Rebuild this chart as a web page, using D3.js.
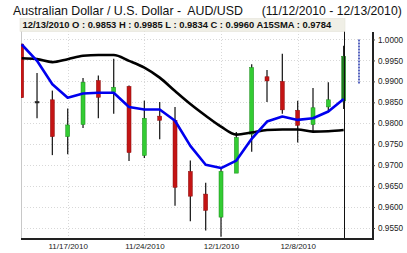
<!DOCTYPE html>
<html>
<head>
<meta charset="utf-8">
<script src="https://cdn.jsdelivr.net/npm/d3@7"></script>
<style>
  body { margin: 0; background: #fff; }
  svg { display: block; font-family: "Liberation Sans", Arial, sans-serif; }
  .pre { white-space: pre; }
</style>
</head>
<body>
<svg width="407" height="253"></svg>
<script>
// trading days (weekdays only) plus the next session shown as a dashed range
const days = ["11/12","11/15","11/16","11/17","11/18","11/19","11/22","11/23","11/24","11/25","11/26",
  "11/29","11/30","12/1","12/2","12/3","12/6","12/7","12/8","12/9","12/10","12/13"];
const nextDay = "12/14";

const opens  = [0.9989,0.9852,0.9856,0.9768,0.9797,0.9902,0.9874,0.9888,0.9723,0.9817,0.9807,
  0.9685,0.9631,0.9576,0.9681,0.9774,0.9911,0.9900,0.9831,0.9797,0.9839,0.9853];
const highs  = [0.9990,0.9920,0.9878,0.9835,0.9908,0.9914,0.9954,0.9890,0.9854,0.9851,0.9839,
  0.9711,0.9658,0.9695,0.9779,0.9941,0.9927,0.9966,0.9854,0.9884,0.9898,0.9985];
const lows   = [0.9861,0.9812,0.9724,0.9726,0.9789,0.9812,0.9823,0.9710,0.9717,0.9762,0.9603,
  0.9566,0.9544,0.9529,0.9718,0.9732,0.9851,0.9823,0.9754,0.9779,0.9826,0.9834];
const closes = [0.9861,0.9852,0.9768,0.9796,0.9898,0.9862,0.9886,0.9730,0.9812,0.9807,0.9647,
  0.9626,0.9592,0.9685,0.9766,0.9933,0.9901,0.9832,0.9795,0.9837,0.9856,0.9960];

const sma15 = [0.9955,0.9953,0.9946,0.9953,0.9961,0.9963,0.9963,0.9949,0.9933,0.9909,0.9877,
  0.9846,0.9818,0.9792,0.9773,0.9778,0.9784,0.9785,0.9785,0.9780,0.9781,0.9784];
const smaShort = [0.9988,0.9949,0.9893,0.9861,0.9871,0.9873,0.9873,0.9839,0.9833,0.9833,0.9806,
  0.9746,0.9701,0.9693,0.9711,0.9763,0.9804,0.9816,0.9808,0.9812,0.9828,0.9858];

const nextRange = [1.0000, 0.9894];

const yTicks = [1.0000,0.9950,0.9900,0.9850,0.9800,0.9750,0.9700,0.9650,0.9600,0.9550];
const xTicks = ["11/17","11/24","12/1","12/8"];

const svg = d3.select("svg");
const pLeft = 21, pRight = 373, pTop = 31, pBottom = 239;

const x = d3.scalePoint().domain(days.concat([nextDay])).range([21.7, 359]);
const y = d3.scaleLinear().domain([0.95238, 1.00214]).range([pBottom, pTop - 0.5]);

// title
svg.append("text").attr("class", "pre").attr("x", 13).attr("y", 15).attr("font-size", 12.35).attr("fill", "#111")
  .text("Australian Dollar / U.S. Dollar -  AUD/USD");
svg.append("text").attr("x", 261.7).attr("y", 15).attr("font-size", 12.2).attr("fill", "#111")
  .text("(11/12/2010 - 12/13/2010)");

const defs = svg.append("defs");
defs.append("clipPath").attr("id", "plot")
  .append("rect").attr("x", pLeft).attr("y", pTop).attr("width", pRight - pLeft).attr("height", pBottom - pTop);

// grid
const grid = svg.append("g").attr("stroke", "#d8d8d8").attr("stroke-dasharray", "1,2");
grid.selectAll("line.h").data(yTicks).join("line")
  .attr("x1", pLeft).attr("x2", pRight)
  .attr("y1", d => Math.round(y(d)) + 0.5).attr("y2", d => Math.round(y(d)) + 0.5);
grid.selectAll("line.v").data(xTicks).join("line")
  .attr("x1", d => Math.round(x(d)) + 0.5).attr("x2", d => Math.round(x(d)) + 0.5)
  .attr("y1", pTop).attr("y2", pBottom);

svg.append("line").attr("x1", pLeft + 0.5).attr("x2", pLeft + 0.5).attr("y1", pTop).attr("y2", pBottom)
  .attr("stroke", "#c8c8c8");

const plot = svg.append("g").attr("clip-path", "url(#plot)");

// candles
const candles = days.map((d, i) => ({ d, o: opens[i], h: highs[i], l: lows[i], c: closes[i], last: i === days.length - 1 }));
const cg = plot.selectAll("g.candle").data(candles).join("g");
cg.append("line")
  .attr("x1", d => x(d.d)).attr("x2", d => x(d.d))
  .attr("y1", d => y(d.h)).attr("y2", d => y(d.l))
  .attr("stroke", "#222").attr("stroke-width", 1.3);
cg.append("rect")
  .attr("x", d => x(d.d) - 2).attr("width", 4)
  .attr("y", d => y(Math.max(d.o, d.c)))
  .attr("height", d => Math.max(1.5, Math.abs(y(d.o) - y(d.c))))
  .attr("fill", d => d.c > d.o ? (d.last ? "#1f7a1f" : "#33cc33") : (d.c < d.o ? "#c41414" : "#222"))
  .attr("stroke", d => d.c > d.o ? "#1a8a1a" : (d.c < d.o ? "#8a1010" : "#222"))
  .attr("stroke-width", 0.5);

// moving averages
const line = d3.line().x((v, i) => x(days[i])).y(v => y(v));
plot.append("path").datum(sma15)
  .attr("d", line.curve(d3.curveMonotoneX))
  .attr("fill", "none").attr("stroke", "#000").attr("stroke-width", 2.6);
plot.append("path").datum(smaShort)
  .attr("d", line.curve(d3.curveLinear))
  .attr("fill", "none").attr("stroke", "#0000ee").attr("stroke-width", 2.6)
  .attr("stroke-linejoin", "round");

// next session range (dashed)
plot.append("line")
  .attr("x1", x(nextDay)).attr("x2", x(nextDay))
  .attr("y1", y(nextRange[0])).attr("y2", y(nextRange[1]))
  .attr("stroke", "#2233aa").attr("stroke-width", 1.5).attr("stroke-dasharray", "2,1");

// crosshair on last day
const lastX = Math.round(x(days[days.length - 1])) + 0.5;
svg.append("line")
  .attr("x1", lastX).attr("x2", lastX)
  .attr("y1", pTop).attr("y2", pBottom).attr("stroke", "#111").attr("stroke-width", 1);

// header box
svg.append("rect").attr("x", 20).attr("y", 18.5).attr("width", 325).attr("height", 13)
  .attr("fill", "#f0efe6").attr("stroke", "#e2e0d4").attr("stroke-width", 0.5);
svg.append("text").attr("x", 22.5).attr("y", 28.3).attr("font-size", 9.4).attr("font-weight", "bold")
  .attr("fill", "#111")
  .text(`12/13/2010 O : ${opens[21].toFixed(4)} H : ${highs[21].toFixed(4)} L : ${lows[21].toFixed(4)} C : ${closes[21].toFixed(4)} A15SMA : ${sma15[21].toFixed(4)}`);

// axes
svg.append("line").attr("x1", pLeft).attr("x2", pRight + 1).attr("y1", pBottom).attr("y2", pBottom)
  .attr("stroke", "#222").attr("stroke-width", 2);
svg.append("line").attr("x1", pRight).attr("x2", pRight).attr("y1", pTop + 1).attr("y2", pBottom)
  .attr("stroke", "#222").attr("stroke-width", 2);

const yAxis = svg.append("g").attr("transform", `translate(${pRight},0)`)
  .call(d3.axisRight(y).tickValues(yTicks).tickFormat(d3.format(".4f")).tickSize(2).tickPadding(3));
yAxis.select(".domain").remove();
yAxis.selectAll("text").attr("font-size", 8.2).attr("fill", "#222").attr("font-family", null);
yAxis.selectAll("line").attr("stroke", "#444");

const xAxis = svg.append("g").attr("transform", `translate(0,${pBottom})`)
  .call(d3.axisBottom(x).tickValues(xTicks).tickFormat(d => d + "/2010").tickSize(0).tickPadding(4));
xAxis.select(".domain").remove();
xAxis.selectAll("text").attr("font-size", 8).attr("fill", "#222").attr("font-family", null);
</script>
</body>
</html>
